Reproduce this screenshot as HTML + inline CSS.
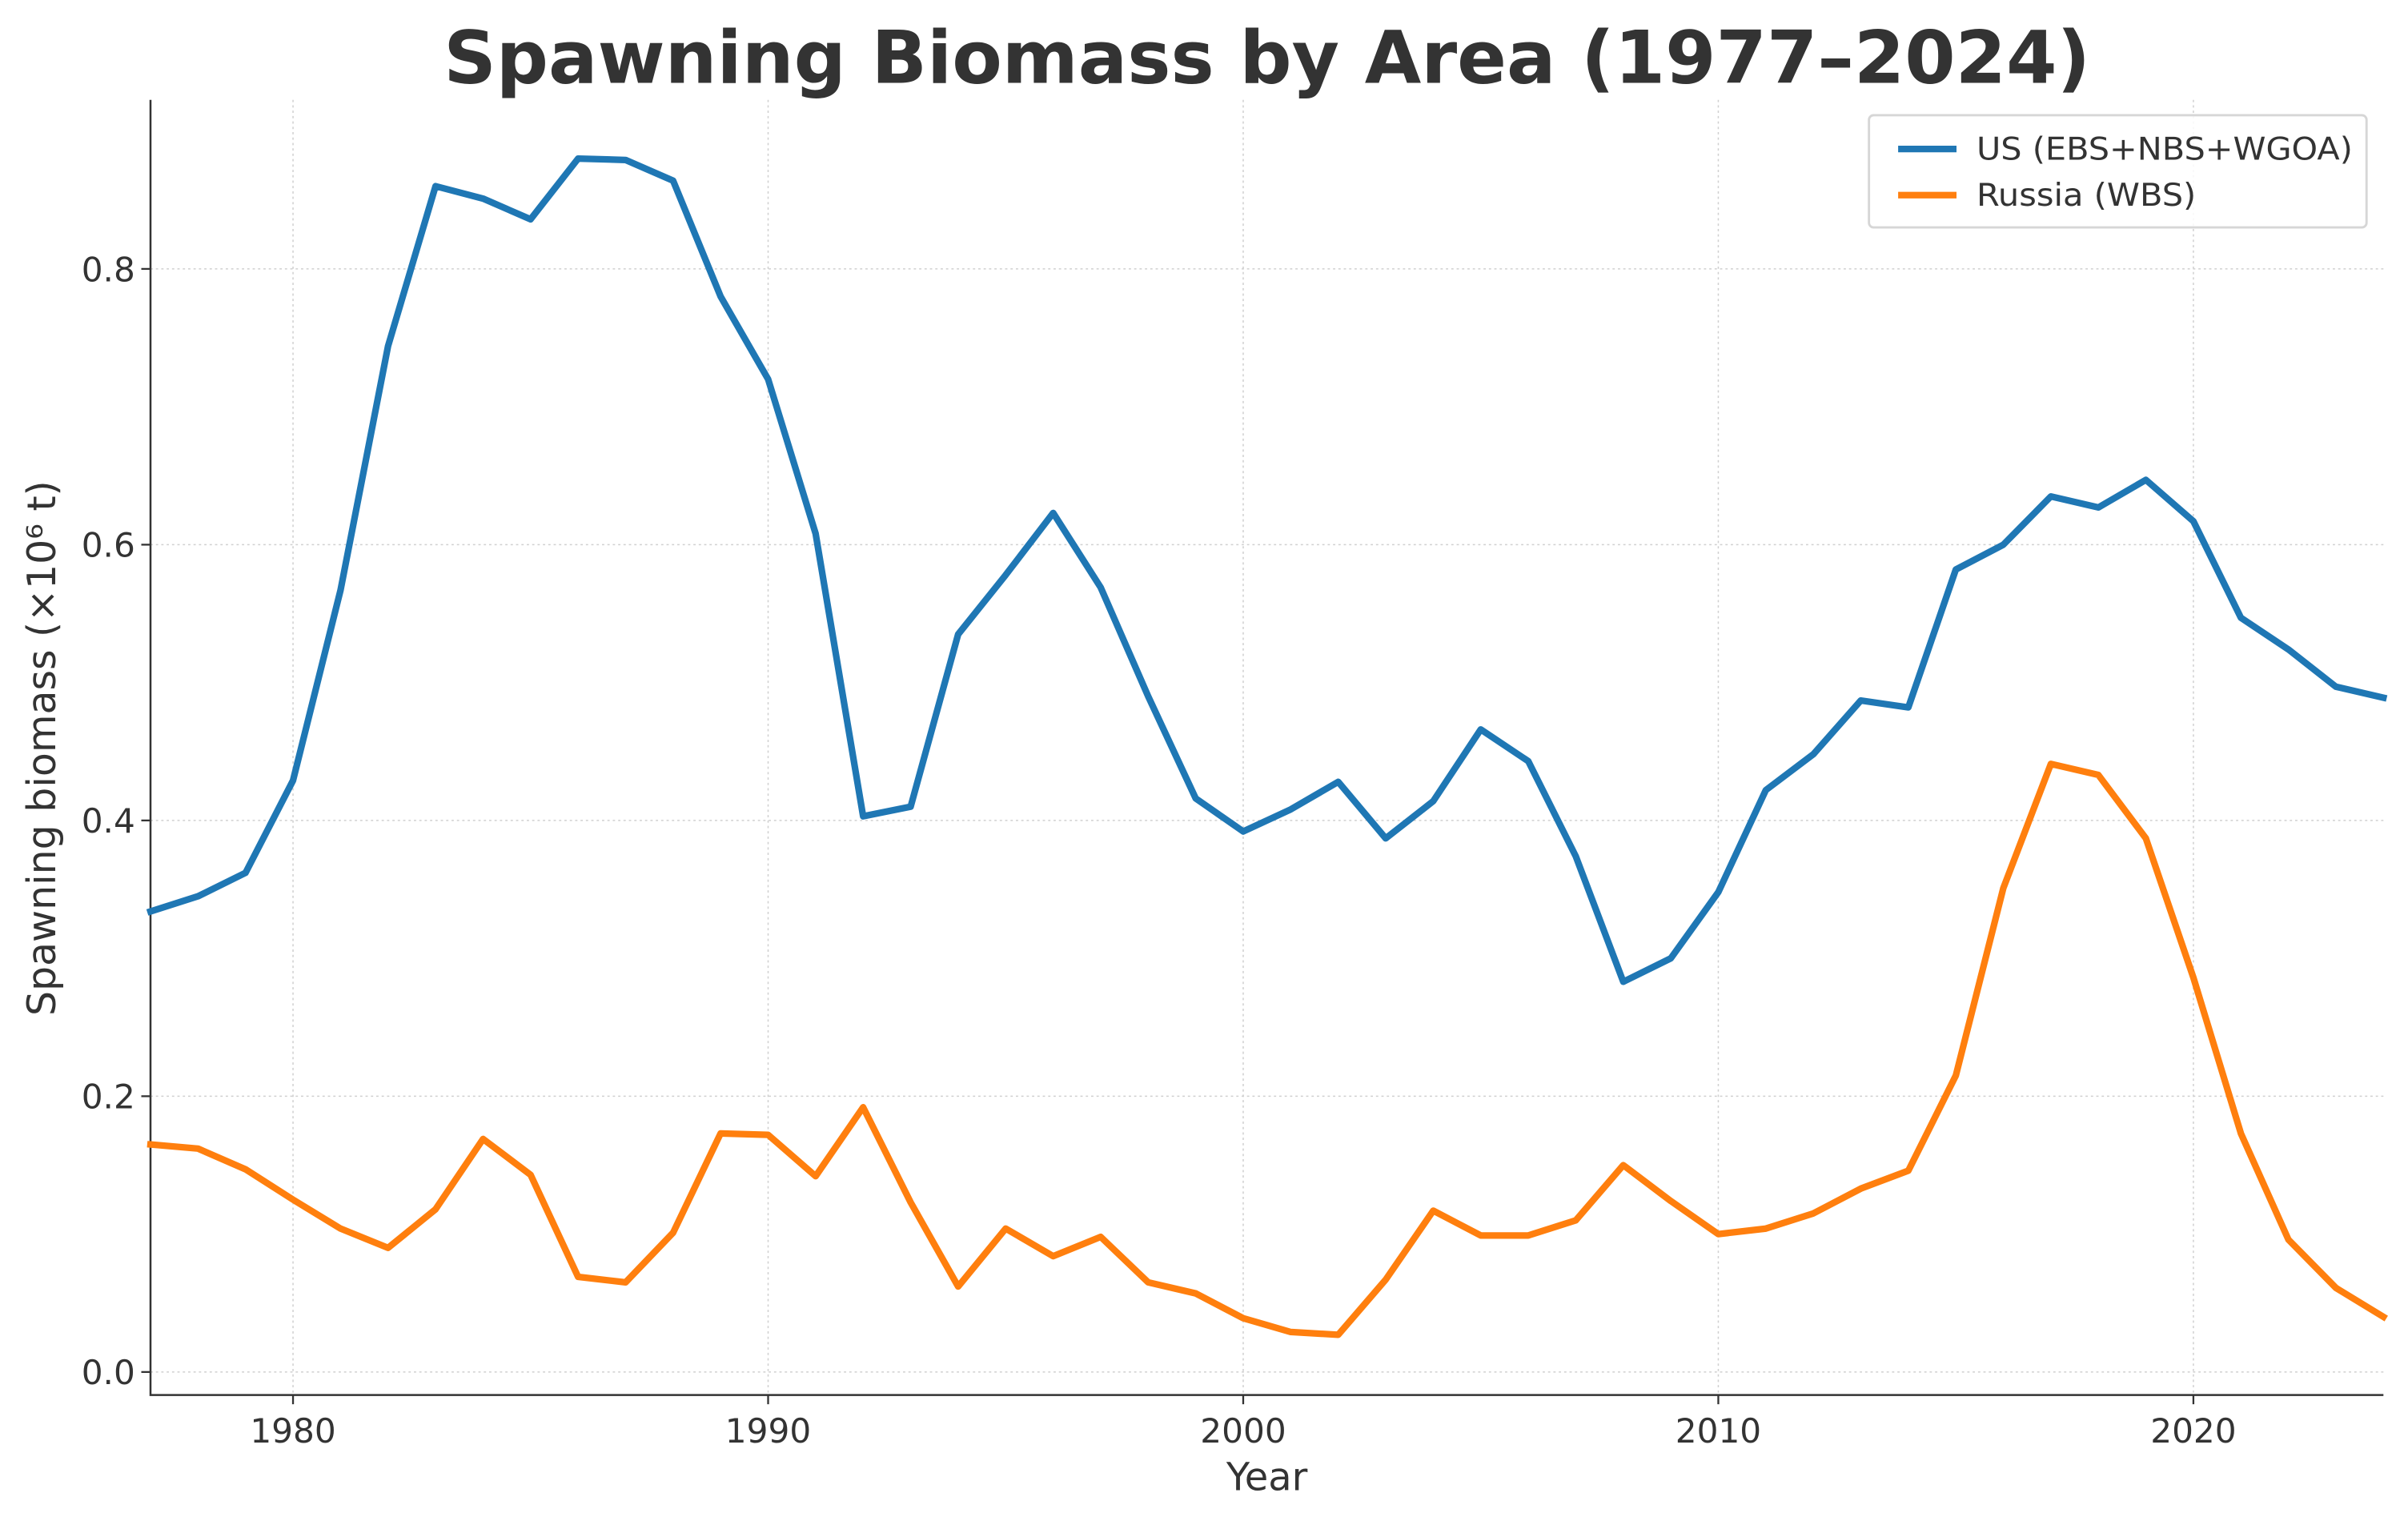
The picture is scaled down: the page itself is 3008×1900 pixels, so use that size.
<!DOCTYPE html>
<html><head><meta charset="utf-8"><style>
html,body{margin:0;padding:0;background:#fff;}
svg{display:block;font-family:"DejaVu Sans","Liberation Sans",sans-serif;}
</style></head><body>
<svg id="chart" width="3008" height="1900" viewBox="0 0 1568 990" preserveAspectRatio="none" xmlns="http://www.w3.org/2000/svg">
<text x="825" y="54" text-anchor="middle" font-size="47.5" font-weight="bold" fill="#333">Spawning Biomass by Area (1977–2024)</text>
<g id="grid"></g>
<g id="axes"></g>
<g id="series"></g>
<text x="825" y="970" text-anchor="middle" font-size="25" fill="#333">Year</text>
<text transform="translate(36,487) rotate(-90)" text-anchor="middle" font-size="25.5" fill="#333">Spawning biomass (×10⁶ t)</text>
<g>
<rect x="1217" y="75" width="324" height="73" rx="3" fill="#fff" fill-opacity="0.85" stroke="#d6d6d6" stroke-width="1.5"/>
<line x1="1236" y1="97" x2="1274" y2="97" stroke="#1f77b4" stroke-width="4.3"/>
<text x="1287" y="104" font-size="20.5" fill="#333" textLength="245" lengthAdjust="spacingAndGlyphs">US (EBS+NBS+WGOA)</text>
<line x1="1236" y1="127" x2="1274" y2="127" stroke="#ff7f0e" stroke-width="4.3"/>
<text x="1287" y="134" font-size="20.5" fill="#333" textLength="143" lengthAdjust="spacingAndGlyphs">Russia (WBS)</text>
</g>
</svg>
<script>
const years = [];
for (let y = 1977; y <= 2024; y++) years.push(y);
const usValues = [0.334,0.345,0.362,0.429,0.567,0.744,0.860,0.851,0.836,0.880,0.879,0.864,0.780,0.720,0.608,0.403,0.410,0.535,0.578,0.623,0.569,0.490,0.416,0.392,0.408,0.428,0.387,0.414,0.466,0.443,0.374,0.283,0.300,0.348,0.422,0.448,0.487,0.482,0.582,0.600,0.635,0.627,0.647,0.617,0.547,0.524,0.497,0.489];
const russiaValues = [0.165,0.162,0.147,0.125,0.104,0.090,0.118,0.169,0.143,0.069,0.065,0.101,0.173,0.172,0.142,0.192,0.123,0.062,0.104,0.084,0.098,0.065,0.057,0.039,0.029,0.027,0.067,0.117,0.099,0.099,0.110,0.150,0.124,0.100,0.104,0.115,0.133,0.146,0.215,0.351,0.441,0.433,0.387,0.286,0.173,0.096,0.061,0.040];
const xTicks = [1980,1990,2000,2010,2020];
const yTicks = [0.0,0.2,0.4,0.6,0.8];
const yTickLabels = ["0.0","0.2","0.4","0.6","0.8"];

const NS = "http://www.w3.org/2000/svg";
const L = 98, R = 1552, T = 65, B = 908;
const xMin = 1977, xMax = 2024, yMin = -0.0167, yMax = 0.9226;
const xs = v => L + (v - xMin) / (xMax - xMin) * (R - L);
const ys = v => B - (v - yMin) / (yMax - yMin) * (B - T);
function mk(tag, attrs, parent) {
  const e = document.createElementNS(NS, tag);
  for (const k in attrs) e.setAttribute(k, attrs[k]);
  parent.appendChild(e);
  return e;
}
const grid = document.getElementById('grid');
const axes = document.getElementById('axes');
const series = document.getElementById('series');
xTicks.forEach(t => {
  const g = mk('line', {x1: xs(t), x2: xs(t), y1: T, y2: B, stroke: '#d0d0d0', 'stroke-width': 0.8, 'stroke-dasharray': '1.5,2'}, grid);
  
  
  mk('line', {x1: xs(t), x2: xs(t), y1: B, y2: B + 6, stroke: '#333', 'stroke-width': 1.2}, axes);
  const tx = mk('text', {x: xs(t), y: B + 31, 'text-anchor': 'middle', 'font-size': 22, fill: '#333'}, axes);
  tx.textContent = t;
  
  
});
yTicks.forEach((t, i) => {
  const g = mk('line', {x1: L, x2: R, y1: ys(t), y2: ys(t), stroke: '#d0d0d0', 'stroke-width': 0.8, 'stroke-dasharray': '1.5,2'}, grid);
  
  
  mk('line', {x1: L - 6, x2: L, y1: ys(t), y2: ys(t), stroke: '#333', 'stroke-width': 1.2}, axes);
  const tx = mk('text', {x: L - 10, y: ys(t) + 8, 'text-anchor': 'end', 'font-size': 22, fill: '#333'}, axes);
  tx.textContent = yTickLabels[i];
  
  
});
const ax = mk('path', {d: `M${L},${T} L${L},${B} L${R},${B}`, fill: 'none', stroke: '#333', 'stroke-width': 1.3}, axes);


function line(vals, color, name) {
  const d = vals.map((v, i) => (i ? 'L' : 'M') + xs(years[i]).toFixed(2) + ',' + ys(v).toFixed(2)).join(' ');
  const p = mk('path', {d: d, fill: 'none', stroke: color, 'stroke-width': 4.3, 'stroke-linejoin': 'round', 'stroke-linecap': 'square'}, series);
  
  
}
line(usValues, '#1f77b4', 'us-series-line');
line(russiaValues, '#ff7f0e', 'russia-series-line');
</script>
</body></html>
